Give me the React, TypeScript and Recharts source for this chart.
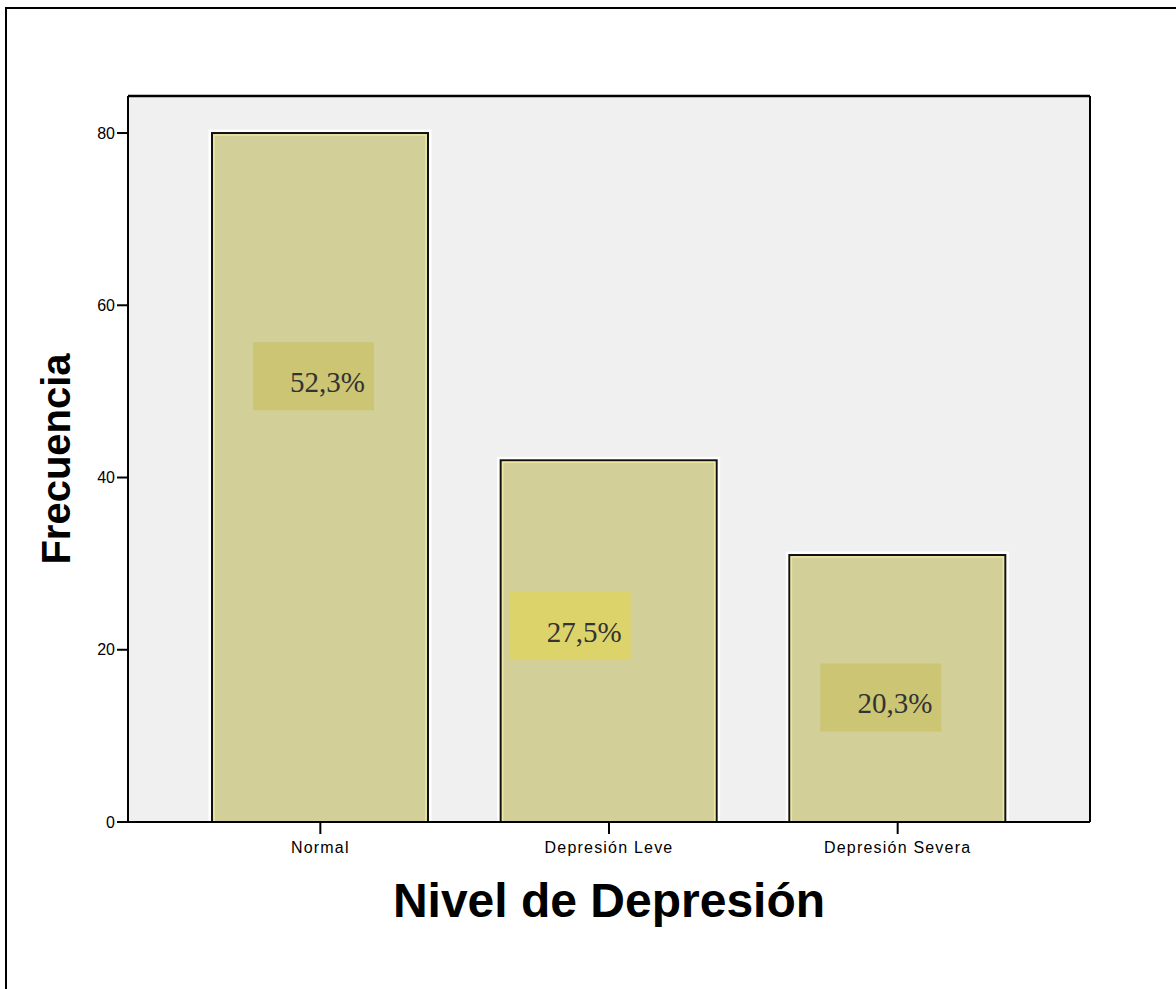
import { BarChart, Bar, XAxis, YAxis, CartesianGrid, LabelList, Label } from 'recharts'

const categories = ['Normal', 'Depresión Leve', 'Depresión Severa']
const frequencies = [80, 42, 31]
const percentLabels = ['52,3%', '27,5%', '20,3%']
// where each percentage text sits (in frequency units, text baseline)
const labelValueAt = [49.9, 20.9, 12.6]
const yTicks = [0, 20, 40, 60, 80]

const labelShiftX = [45, 13, 35]
const labelBoxColors = ['#cbc574', '#dcd36a', '#cbc574']

const data = categories.map((name, i) => ({
  name,
  freq: frequencies[i],
  pct: percentLabels[i],
}))

const sans = '"Liberation Sans", Arial, sans-serif'

function BarShape(props: any) {
  const { x, y, width, height } = props
  return (
    <g>
      <rect x={x - 2} y={y - 2} width={width + 4} height={height + 2} fill="none" stroke="#ffffff" strokeWidth={3} />
      <rect x={x} y={y} width={width} height={height} fill="#d3cf99" stroke="#111" strokeWidth={2} />
      <rect x={x + 2} y={y + 2} width={width - 4} height={height - 2} fill="none" stroke="#eee7a2" strokeWidth={1.5} />
    </g>
  )
}

function PercentLabel(props: any) {
  const { x, y, width, height, value, index } = props
  const v = frequencies[index]
  const pxPerUnit = height / v
  const baseY = y + height - labelValueAt[index] * pxPerUnit
  const right = x + width / 2 + labelShiftX[index]
  return (
    <g>
      <rect x={right - 112} y={baseY - 50} width={121} height={68} fill={labelBoxColors[index]} />
      <text
        x={right}
        y={baseY}
        textAnchor="end"
        fontFamily='"Liberation Serif", "Times New Roman", serif'
        fontSize={29}
        fill="#333"
      >
        {value}
      </text>
    </g>
  )
}

export default function App() {
  return (
    <div style={{ position: 'absolute', left: 0, top: 0, width: 1176, height: 989, background: '#fff', overflow: 'hidden' }}>
      <div
        style={{
          position: 'absolute',
          left: 5,
          top: 7,
          width: 1200,
          height: 1020,
          border: '2px solid #000',
        }}
      />
      <div style={{ position: 'absolute', left: 0, top: 0 }}>
        <BarChart
          width={1176}
          height={989}
          data={data}
          margin={{ top: 95, right: 85, bottom: 127, left: 68 }}
          barSize={216}
        >
          <CartesianGrid horizontal={false} vertical={false} fill="#f0f0f0" />
          <XAxis
            dataKey="name"
            height={40}
            padding={{ left: 48, right: 48 }}
            axisLine={{ stroke: '#000', strokeWidth: 2 }}
            tickLine={{ stroke: '#000', strokeWidth: 2 }}
            tickSize={12}
            tickMargin={8}
            tick={{ fill: '#000', fontSize: 16, fontFamily: sans, letterSpacing: 1.2 }}
          >
            <Label
              content={(p: any) => {
                const vb = p.viewBox
                return (
                  <text
                    x={vb.x + vb.width / 2}
                    y={vb.y + 95}
                    textAnchor="middle"
                    fontFamily={sans}
                    fontWeight="bold"
                    fontSize={48}
                    fill="#000"
                  >
                    Nivel de Depresión
                  </text>
                )
              }}
            />
          </XAxis>
          <XAxis
            xAxisId="top"
            dataKey="name"
            orientation="top"
            height={1}
            padding={{ left: 48, right: 48 }}
            tick={false}
            tickLine={false}
            axisLine={{ stroke: '#000', strokeWidth: 2.5 }}
          />
          <YAxis
            width={60}
            domain={[0, 84.3]}
            ticks={yTicks}
            axisLine={{ stroke: '#000', strokeWidth: 2 }}
            tickLine={{ stroke: '#000', strokeWidth: 2 }}
            tickSize={11}
            tick={{ fill: '#000', fontSize: 16, fontFamily: sans }}
          >
            <Label
              content={(p: any) => {
                const vb = p.viewBox
                const cx = vb.x + 2
                const cy = vb.y + vb.height / 2
                return (
                  <text
                    x={cx}
                    y={cy}
                    transform={`rotate(-90 ${cx} ${cy})`}
                    textAnchor="middle"
                    fontFamily={sans}
                    fontWeight="bold"
                    fontSize={40}
                    fill="#000"
                  >
                    Frecuencia
                  </text>
                )
              }}
            />
          </YAxis>
          <YAxis
            yAxisId="right"
            orientation="right"
            width={1}
            domain={[0, 84.3]}
            tick={false}
            tickLine={false}
            axisLine={{ stroke: '#000', strokeWidth: 2 }}
          />
          <Bar dataKey="freq" shape={<BarShape />} isAnimationActive={false}>
            <LabelList dataKey="pct" content={<PercentLabel />} />
          </Bar>
        </BarChart>
      </div>
    </div>
  )
}
